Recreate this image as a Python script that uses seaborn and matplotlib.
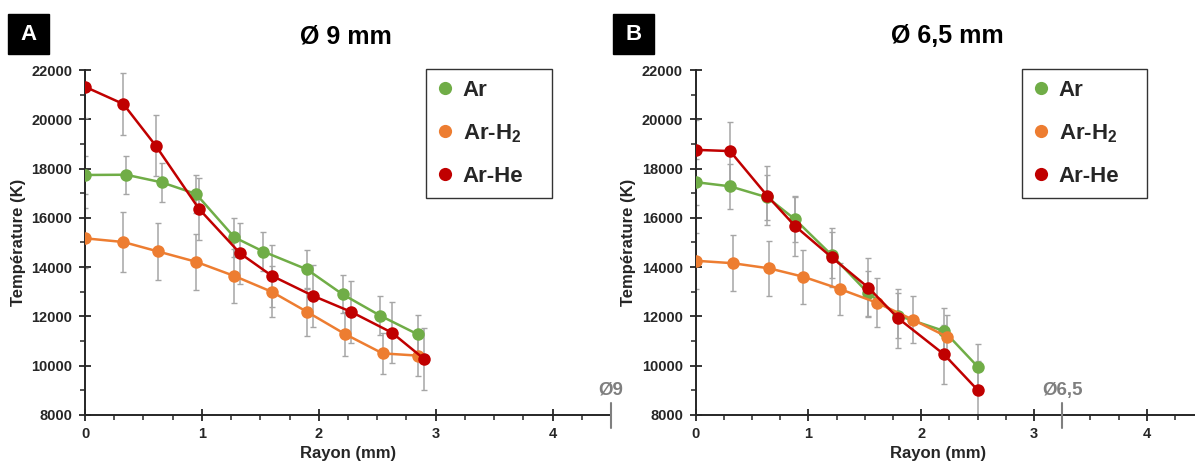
import numpy as np
import pandas as pd
import seaborn as sns
import matplotlib.pyplot as plt
from matplotlib.lines import Line2D
from matplotlib.patches import Rectangle
from matplotlib.ticker import MultipleLocator

sns.set_style("ticks")
plt.rcParams["font.family"] = ["Liberation Sans", "DejaVu Sans"]
plt.rcParams["font.weight"] = "bold"
plt.rcParams["mathtext.fontset"] = "custom"
plt.rcParams["mathtext.rm"] = "Liberation Sans:bold"
plt.rcParams["mathtext.bf"] = "Liberation Sans:bold"

gases = ["Ar", "Ar-H2", "Ar-He"]
gas_labels = ["Ar", r"Ar-H$_\mathbf{2}$", "Ar-He"]
colors = {"Ar": "#70AD47", "Ar-H2": "#ED7D31", "Ar-He": "#C00000"}

# --- torch diameter 9 mm ---
r9_ar = [0, 0.351, 0.657, 0.950, 1.278, 1.527, 1.898, 2.203, 2.526, 2.848]
t9_ar = [17740, 17750, 17440, 16970, 15210, 14630, 13910, 12900, 12030, 11270]
e9_ar = [780, 780, 780, 780, 780, 780, 780, 780, 780, 780]

r9_h2 = [0, 0.328, 0.622, 0.948, 1.278, 1.598, 1.898, 2.226, 2.546, 2.848]
t9_h2 = [15170, 15020, 14640, 14220, 13640, 13000, 12190, 11280, 10500, 10410]
e9_h2 = [1210, 1200, 1170, 1140, 1090, 1040, 980, 900, 840, 830]

r9_he = [0, 0.328, 0.605, 0.976, 1.327, 1.598, 1.949, 2.275, 2.626, 2.902]
t9_he = [21320, 20620, 18930, 16360, 14560, 13650, 12840, 12190, 11340, 10270]
e9_he = [1250, 1250, 1250, 1250, 1250, 1250, 1250, 1250, 1250, 1250]

# --- torch diameter 6,5 mm ---
r65_ar = [0, 0.306, 0.637, 0.882, 1.207, 1.532, 1.798, 2.203, 2.502]
t65_ar = [17450, 17280, 16830, 15940, 14490, 12940, 12030, 11410, 9960]
e65_ar = [920, 920, 920, 920, 920, 920, 920, 920, 920]

r65_h2 = [0, 0.330, 0.654, 0.956, 1.281, 1.606, 1.931, 2.227]
t65_h2 = [14260, 14160, 13950, 13610, 13110, 12560, 11860, 11180]
e65_h2 = [1140, 1130, 1115, 1090, 1050, 1005, 950, 895]

r65_he = [0, 0.306, 0.637, 0.882, 1.207, 1.532, 1.798, 2.203, 2.502]
t65_he = [18760, 18710, 16890, 15670, 14400, 13170, 11920, 10460, 9010]
e65_he = [1200, 1200, 1200, 1200, 1200, 1200, 1200, 1200, 1200]


def make_frame(r_ar, t_ar, e_ar, r_h2, t_h2, e_h2, r_he, t_he, e_he):
    parts = []
    for gas, r, t, e in [("Ar", r_ar, t_ar, e_ar), ("Ar-H2", r_h2, t_h2, e_h2),
                         ("Ar-He", r_he, t_he, e_he)]:
        parts.append(pd.DataFrame({"gas": gas, "r": r, "T": t, "err": e}))
    return pd.concat(parts, ignore_index=True)


df9 = make_frame(r9_ar, t9_ar, e9_ar, r9_h2, t9_h2, e9_h2, r9_he, t9_he, e9_he)
df65 = make_frame(r65_ar, t65_ar, e65_ar, r65_h2, t65_h2, e65_h2, r65_he, t65_he, e65_he)

W, H = 1195, 462
fig = plt.figure(figsize=(W / 100, H / 100), dpi=100)


def px_axes(x0, y0, x1, y1):
    return fig.add_axes([x0 / W, 1 - y1 / H, (x1 - x0) / W, (y1 - y0) / H])


def draw_panel(ax, df, letter, title, diam_x, diam_label, letter_px, title_px, legend_px, xlabel_frac):
    for gas in gases:
        sub = df[df["gas"] == gas]
        ax.errorbar(sub["r"], sub["T"], yerr=sub["err"], fmt="none", ecolor="#A6A6A6",
                    elinewidth=1.1, capsize=2.2, capthick=1.0, zorder=1)
    sns.lineplot(data=df, x="r", y="T", hue="gas", palette=colors, hue_order=gases,
                 sort=False, estimator=None, marker="o", markersize=9, markeredgewidth=0,
                 linewidth=1.8, legend=False, ax=ax, zorder=3)

    ax.set_xlim(0, 4.5)
    ax.set_ylim(8000, 22000)
    ax.xaxis.set_major_locator(MultipleLocator(1))
    ax.xaxis.set_minor_locator(MultipleLocator(0.25))
    ax.yaxis.set_major_locator(MultipleLocator(2000))
    ax.yaxis.set_minor_locator(MultipleLocator(1000))
    ax.tick_params(which="major", direction="inout", length=8, width=1.3, colors="#262626",
                   labelsize=10.5, pad=5)
    ax.tick_params(which="minor", direction="out", length=3.5, width=1.1, colors="#262626")
    for lab in ax.get_xticklabels() + ax.get_yticklabels():
        lab.set_fontweight("bold")
    sns.despine(ax=ax)
    for s in ["left", "bottom"]:
        ax.spines[s].set_linewidth(1.4)
        ax.spines[s].set_color("#262626")
    ax.set_xlabel("Rayon (mm)", fontsize=12, fontweight="bold", color="#262626")
    ax.xaxis.set_label_coords(xlabel_frac, -0.09)
    ax.set_ylabel("Température (K)", fontsize=12, fontweight="bold", color="#262626")
    ax.patch.set_alpha(0)

    # diameter marker on the radius axis
    ax.plot([diam_x, diam_x], [8500, 7480], color="#7F7F7F", lw=1.5, clip_on=False, zorder=5)
    ax.text(diam_x, 9000, diam_label, ha="center", va="center", fontsize=13.5,
            fontweight="bold", color="#7F7F7F")

    # panel letter
    lx, ly = letter_px
    fig.patches.append(Rectangle((lx / W, 1 - (ly + 40) / H), 41 / W, 40 / H,
                                 transform=fig.transFigure, color="black"))
    fig.text((lx + 20.5) / W, 1 - (ly + 20) / H, letter, color="white", fontsize=16,
             fontweight="bold", ha="center", va="center")
    fig.text(title_px[0] / W, 1 - title_px[1] / H, title, fontsize=18, fontweight="bold",
             ha="center", va="center", color="black")

    handles = [Line2D([], [], linestyle="none", marker="o", markersize=9.5, markeredgewidth=0,
                      color=colors[g]) for g in gases]
    x0, y0, x1, y1 = legend_px
    leg = ax.legend(handles, gas_labels, loc="upper left", mode="expand",
                    bbox_to_anchor=(x0 / W, 1 - y1 / H, (x1 - x0) / W, (y1 - y0) / H),
                    bbox_transform=fig.transFigure, frameon=True, fancybox=False,
                    edgecolor="black", fontsize=16, handlelength=0.7, handletextpad=0.45,
                    labelspacing=0.95, borderpad=0.5, borderaxespad=0)
    leg.get_frame().set_linewidth(1.0)
    for t in leg.get_texts():
        t.set_fontweight("bold")


axA = px_axes(85, 70, 611, 415)
draw_panel(axA, df9, "A", "Ø 9 mm", 4.5, "Ø9", (8, 14), (346, 36), (426, 69, 552, 196), 0.5)

axB = px_axes(695.5, 70, 695.5 + 4.5 * 112.8, 415)
draw_panel(axB, df65, "B", "Ø 6,5 mm", 3.25, "Ø6,5", (613, 14), (947, 36),
           (1022, 69, 1147, 196), 0.477)

fig.savefig("out.png", dpi=100)
